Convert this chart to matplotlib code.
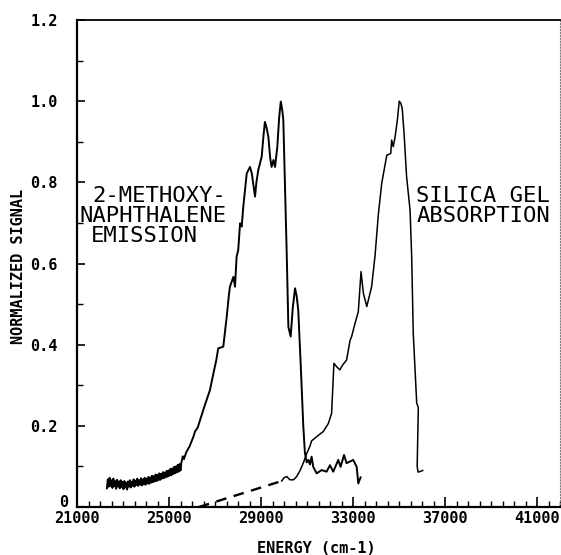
import matplotlib
matplotlib.use("Agg")
import matplotlib.pyplot as plt
from matplotlib.ticker import MultipleLocator, FixedLocator
from matplotlib.transforms import ScaledTranslation

# 2-methoxynaphthalene emission
emis_x = [22300, 22340, 22380, 22420, 22460, 22500, 22540, 22580, 22620, 22660,
          22700, 22740, 22780, 22820, 22860, 22900, 22940, 22980, 23020, 23060,
          23100, 23140, 23180, 23220, 23260, 23300, 23340, 23380, 23420, 23460,
          23500, 23540, 23580, 23620, 23660, 23700, 23740, 23780, 23820, 23860,
          23900, 23940, 23980, 24020, 24060, 24100, 24140, 24180, 24220, 24260,
          24300, 24340, 24380, 24420, 24460, 24500, 24540, 24580, 24620, 24660,
          24700, 24740, 24780, 24820, 24860, 24900, 24940, 24980, 25020, 25060,
          25100, 25140, 25180, 25220, 25260, 25300, 25340, 25380, 25420, 25460,
          25500, 25540,
          25600, 25650, 25750, 25900, 26060, 26130, 26250, 26350, 26490, 26600,
          26780, 26930, 27050, 27140, 27360, 27450, 27510, 27600, 27650, 27800,
          27870, 27940, 28010, 28090, 28160, 28230, 28380, 28450, 28520, 28600,
          28680, 28740, 28800, 28880, 29030, 29100, 29170, 29240, 29320, 29400,
          29460, 29540, 29610, 29710, 29790, 29860, 29920, 29970, 30040, 30120,
          30190, 30290, 30380, 30480, 30550, 30620, 30730, 30840, 30910, 30990,
          31060, 31130, 31200, 31270, 31420, 31640, 31850, 32000, 32140, 32360,
          32460, 32610, 32720, 32870, 33010, 33160, 33230, 33330]
emis_y = [0.046, 0.068, 0.050, 0.072, 0.052, 0.066, 0.047, 0.070, 0.051, 0.064,
          0.045, 0.067, 0.050, 0.063, 0.046, 0.066, 0.049, 0.062, 0.044, 0.064,
          0.048, 0.060, 0.043, 0.063, 0.050, 0.066, 0.048, 0.062, 0.052, 0.068,
          0.050, 0.065, 0.054, 0.070, 0.052, 0.066, 0.055, 0.071, 0.053, 0.068,
          0.056, 0.072, 0.055, 0.070, 0.058, 0.074, 0.057, 0.073, 0.060, 0.077,
          0.061, 0.076, 0.063, 0.080, 0.064, 0.079, 0.066, 0.083, 0.067, 0.082,
          0.070, 0.086, 0.071, 0.085, 0.073, 0.089, 0.075, 0.090, 0.077, 0.094,
          0.078, 0.095, 0.081, 0.099, 0.083, 0.100, 0.085, 0.104, 0.087, 0.106,
          0.090, 0.110,
          0.125, 0.118, 0.135, 0.150, 0.173, 0.186, 0.196, 0.214, 0.239, 0.258,
          0.288, 0.329, 0.360, 0.391, 0.395, 0.440, 0.469, 0.520, 0.543, 0.567,
          0.543, 0.617, 0.633, 0.699, 0.691, 0.740, 0.822, 0.830, 0.838, 0.822,
          0.790, 0.765, 0.800, 0.830, 0.863, 0.910, 0.949, 0.935, 0.912, 0.860,
          0.838, 0.855, 0.838, 0.888, 0.960, 0.999, 0.980, 0.954, 0.800, 0.620,
          0.444, 0.420, 0.490, 0.539, 0.520, 0.485, 0.346, 0.198, 0.133, 0.110,
          0.116, 0.105, 0.124, 0.099, 0.083, 0.091, 0.087, 0.103, 0.087, 0.116,
          0.099, 0.128, 0.108, 0.112, 0.116, 0.099, 0.058, 0.073]

# silica gel absorption
abs_x = [29900, 30000, 30120, 30260, 30410, 30550, 30700, 30850, 30990, 31130,
         31200, 31350, 31500, 31710, 31930, 32070, 32170, 32300, 32430, 32550,
         32720, 32870, 32940, 33090, 33230, 33350, 33450, 33600, 33810, 33960,
         34100, 34250, 34470, 34640, 34680, 34750, 34830, 34930, 35010, 35080,
         35140, 35220, 35330, 35480, 35550, 35620, 35770, 35840, 35790, 35830,
         35950, 36030]
abs_y = [0.064, 0.072, 0.075, 0.067, 0.067, 0.075, 0.090, 0.110, 0.132, 0.150,
         0.163, 0.170, 0.177, 0.186, 0.206, 0.231, 0.354, 0.345, 0.338, 0.350,
         0.362, 0.410, 0.420, 0.453, 0.481, 0.580, 0.527, 0.494, 0.543, 0.620,
         0.720, 0.798, 0.867, 0.871, 0.904, 0.888, 0.912, 0.954, 1.000, 0.995,
         0.982, 0.921, 0.814, 0.732, 0.620, 0.428, 0.256, 0.245, 0.100, 0.086,
         0.088, 0.090]

# extrapolated baseline (dashed)
base_x = [26300, 29900]
base_y = [0.0, 0.064]

x_ticks = [21000, 25000, 29000, 33000, 37000, 41000]
y_ticks = [0, 0.2, 0.4, 0.6, 0.8, 1.0, 1.2]
y_ticklabels = ["0", "0.2", "0.4", "0.6", "0.8", "1.0", "1.2"]

mono = "DejaVu Sans Mono"

fig = plt.figure(figsize=(5.61, 5.55), dpi=100)
ax = fig.add_axes([77 / 561, 48 / 555, 483 / 561, 487 / 555])

ax.plot(emis_x, emis_y, color="black", lw=1.4)
ax.plot(abs_x, abs_y, color="black", lw=1.1)
ax.plot(base_x, base_y, color="black", lw=1.7, linestyle=(0, (4.5, 3.2)))

ax.set_xlim(21000, 42000)
ax.set_ylim(0, 1.2)

ax.xaxis.set_major_locator(FixedLocator(x_ticks))
ax.xaxis.set_minor_locator(MultipleLocator(500))
ax.set_xticklabels([str(t) for t in x_ticks], family=mono, weight="bold", fontsize=11)
ax.yaxis.set_major_locator(FixedLocator(y_ticks))
ax.yaxis.set_minor_locator(MultipleLocator(0.1))
ax.set_yticklabels(y_ticklabels, family=mono, weight="bold", fontsize=11)

ax.tick_params(axis="x", which="major", direction="in", length=7, width=1.2, pad=3)
ax.tick_params(axis="x", which="minor", direction="in", length=4, width=1.0)
ax.tick_params(axis="y", which="major", direction="in", length=6, width=1.2, pad=14)
ax.tick_params(axis="y", which="minor", direction="in", length=4, width=1.0)

# the "0" sits just above 21000, closer to the axis
zero = ax.get_yticklabels()[0]
zero.set_verticalalignment("baseline")
zero.set_transform(zero.get_transform() + ScaledTranslation(8 / 72, 0, fig.dpi_scale_trans))

for side in ["left", "bottom"]:
    ax.spines[side].set_linewidth(1.6)
ax.spines["top"].set_linewidth(1.3)
ax.spines["right"].set_linewidth(0.8)
ax.spines["right"].set_linestyle(":")
ax.spines["right"].set_color("0.5")

fig.text(316 / 561, 1 - 553 / 555, "ENERGY (cm-1)", ha="center", va="baseline",
         family=mono, weight="bold", fontsize=11)
fig.text(19 / 561, 1 - 266 / 555, "NORMALIZED SIGNAL", ha="center", va="center",
         rotation=90, family=mono, weight="bold", fontsize=11)

txt = dict(family=mono, fontsize=16, va="baseline", ha="left")
ax.text(21650, 0.751, "2-METHOXY-", **txt)
ax.text(21130, 0.702, "NAPHTHALENE", **txt)
ax.text(21610, 0.653, "EMISSION", **txt)
ax.text(35740, 0.751, "SILICA GEL", **txt)
ax.text(35780, 0.702, "ABSORPTION", **txt)

fig.savefig("out.png", dpi=100)
